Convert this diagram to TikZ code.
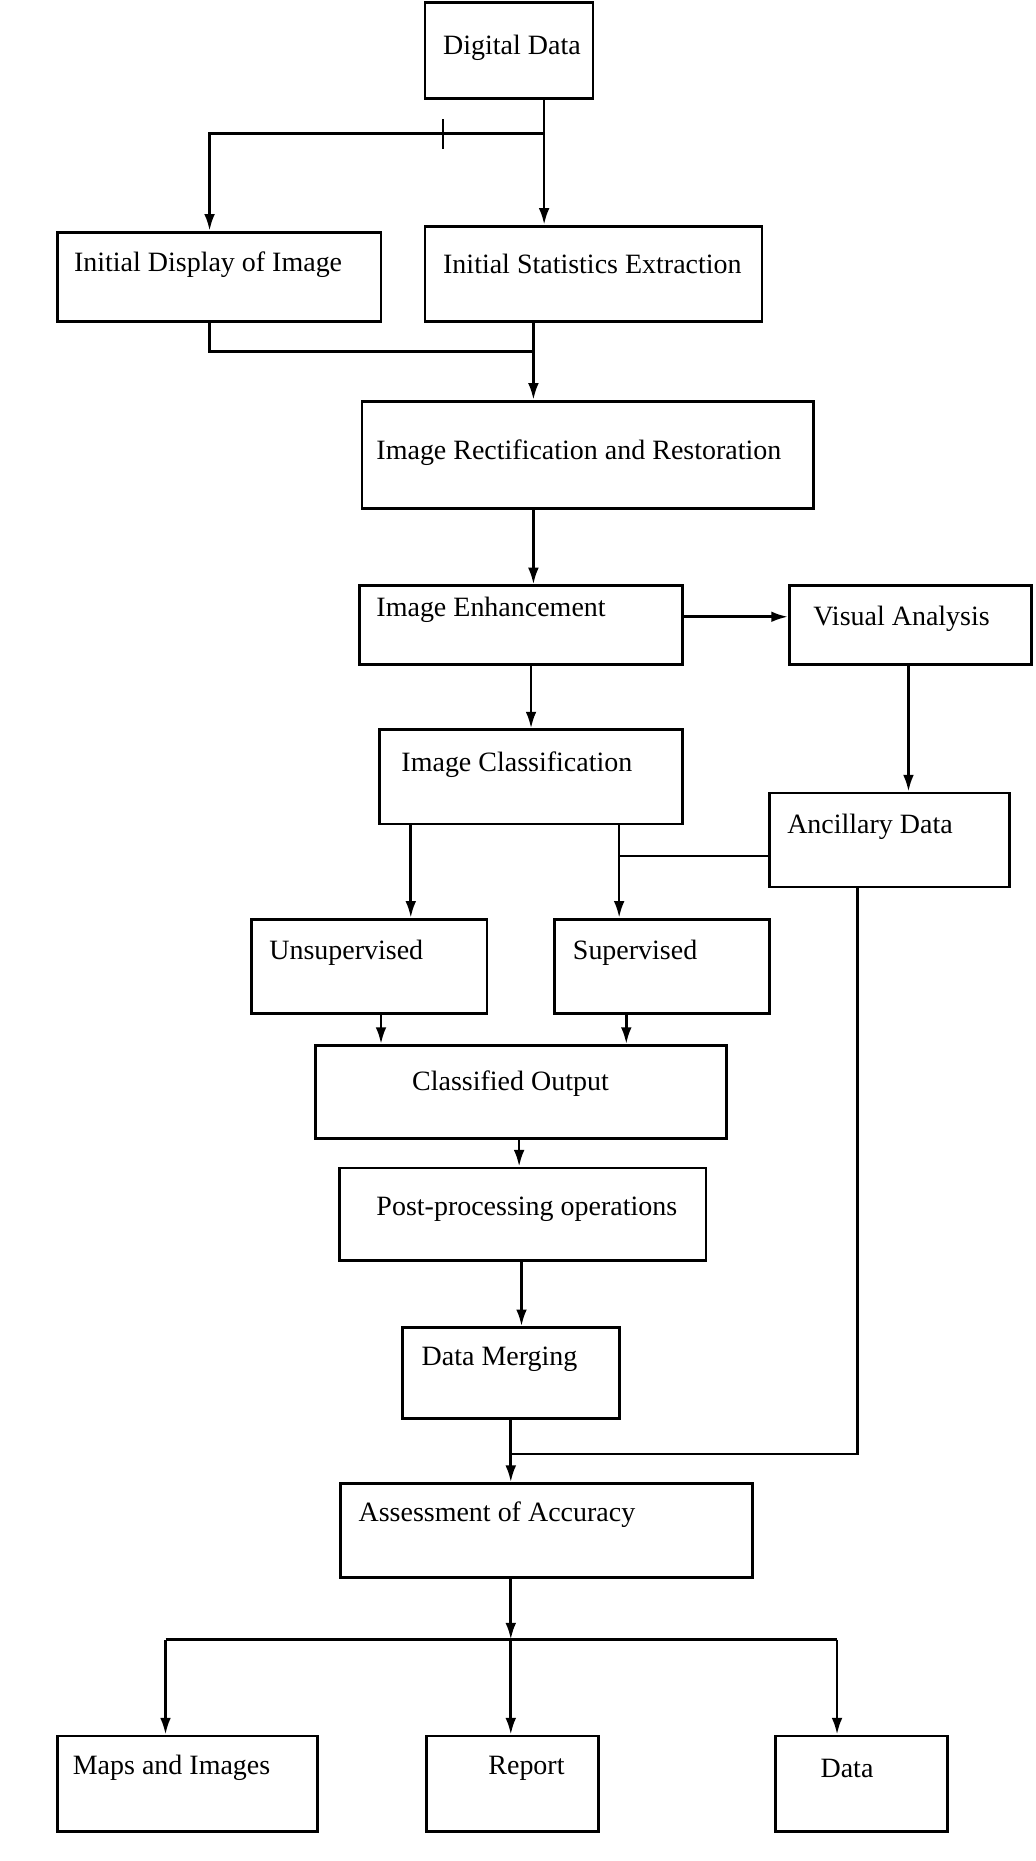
\documentclass[tikz,border=0pt]{standalone}
\usepackage{fontspec}
\setmainfont{Liberation Serif}
\usetikzlibrary{arrows.meta}
\begin{document}
\begin{tikzpicture}[x=1pt,y=-1pt,
  box/.style={draw,line width=2.4pt,inner sep=0pt},
  lbl/.style={anchor=west,inner sep=0pt,font=\fontsize{23.5}{26}\selectfont},
  ln/.style={line width=2.2pt},
  arr/.style={ln,-{Latex[length=14pt,width=9pt]}}]
\useasboundingbox (0,0) rectangle (870,1563);
\newcommand\bx[8]{%
  \node[box,minimum width=#4-#2,minimum height=#5-#3] (#1) at ({(#2+#4)/2},{(#3+#5)/2}) {};
  \node[lbl] (#1t) at (#6,#7) {#8};}
\bx{dd}{357}{2}{498}{83}{372}{40}{Digital Data}
\bx{idi}{48}{195}{320}{270}{62}{222}{Initial Display of Image}
\bx{ise}{357}{190}{640}{270}{372}{222}{Initial Statistics Extraction}
\bx{irr}{304}{337}{683}{427}{316}{380}{Image Rectification and Restoration}
\bx{ie}{302}{492}{573}{558}{316}{512}{Image Enhancement}
\bx{va}{663}{492}{866}{558}{683}{520}{Visual Analysis}
\bx{ic}{319}{613}{573}{692}{337}{642}{Image Classification}
\bx{ad}{646}{666}{848}{745}{661}{694}{Ancillary Data}
\bx{un}{211}{772}{409}{851}{226}{800}{Unsupervised}
\bx{su}{466}{772}{646}{851}{481}{800}{Supervised}
\bx{co}{265}{878}{610}{956}{346}{910}{Classified Output}
\bx{pp}{285}{981}{593}{1059}{316}{1016}{Post-processing operations}
\bx{dm}{338}{1115}{520}{1191}{354}{1142}{Data Merging}
\bx{aa}{286}{1246}{632}{1325}{301}{1272}{Assessment of Accuracy}
\bx{mi}{48}{1458}{267}{1538}{61}{1485}{Maps and Images}
\bx{rp}{358}{1458}{503}{1538}{410}{1485}{Report}
\bx{da}{651}{1458}{796}{1538}{689}{1485}{Data}
% top split
\coordinate (s1) at (457,112);
\draw[arr] (dd.south -| s1) -- (ise.north -| s1);
\draw[arr] (s1) -- (176,112) -- (idi.north -| 176,0);
\draw[ln] (372,100) -- (372,125);
% join to rectification
\coordinate (j) at (448,295);
\draw[ln] (idi.south -| 176,0) -- (176,295) -- (j);
\draw[arr] (ise.south -| j) -- (irr.north -| j);
\draw[arr] (irr.south -| j) -- (ie.north -| j);
\draw[arr] (ie.east |- 0,518) -- (va.west |- 0,518);
\draw[arr] (ie.south -| 446,0) -- (ic.north -| 446,0);
\draw[arr] (va.south -| 763,0) -- (ad.north -| 763,0);
\draw[arr] (ic.south -| 345,0) -- (un.north -| 345,0);
\draw[arr] (ic.south -| 520,0) -- (su.north -| 520,0);
\draw[ln] (ad.west |- 0,719) -- (520,719);
\draw[arr] (un.south -| 320,0) -- (co.north -| 320,0);
\draw[arr] (su.south -| 526,0) -- (co.north -| 526,0);
\draw[arr] (co.south -| 436,0) -- (pp.north -| 436,0);
\draw[arr] (pp.south -| 438,0) -- (dm.north -| 438,0);
\draw[arr] (dm.south -| 429,0) -- (aa.north -| 429,0);
\draw[ln] (ad.south -| 720,0) -- (720,1221) -- (429,1221);
\coordinate (b) at (429,1377);
\draw[arr] (aa.south -| b) -- (b);
\draw[ln] (139,1377) -- (703,1377);
\draw[arr] (139,1377) -- (mi.north -| 139,0);
\draw[arr] (b) -- (rp.north -| b);
\draw[arr] (703,1377) -- (da.north -| 703,0);
\end{tikzpicture}
\end{document}
